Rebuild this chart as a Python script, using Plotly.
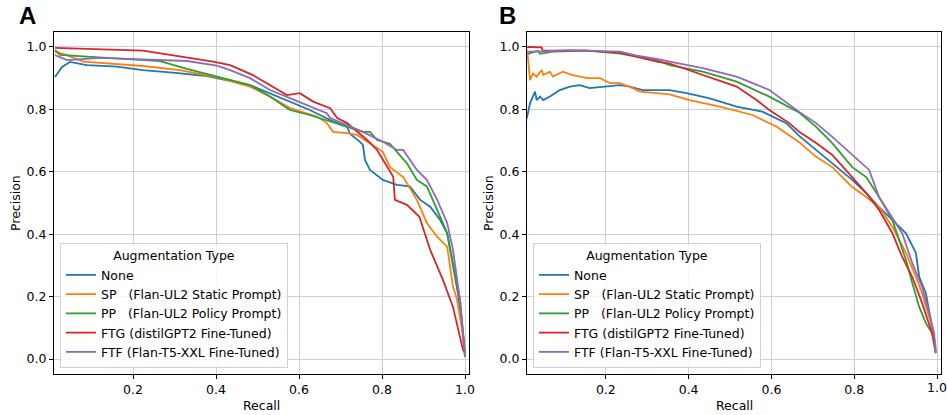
import plotly.graph_objects as go

W, H = 947, 415

series_names = [
    "None",
    "SP\u00a0\u00a0\u00a0(Flan-UL2 Static Prompt)",
    "PP\u00a0\u00a0\u00a0(Flan-UL2 Policy Prompt)",
    "FTG (distilGPT2 Fine-Tuned)",
    "FTF (Flan-T5-XXL Fine-Tuned)",
]
colors = ["#1f77b4", "#ff7f0e", "#2ca02c", "#d62728", "#9467bd"]

x_ticks = [0.2, 0.4, 0.6, 0.8, 1.0]
x_tick_labels = ["0.2", "0.4", "0.6", "0.8", "1.0"]
y_ticks = [0.0, 0.2, 0.4, 0.6, 0.8, 1.0]
y_tick_labels = ["0.0", "0.2", "0.4", "0.6", "0.8", "1.0"]

# ---------------- Panel A ----------------
a_none_r = [0.012, 0.029, 0.048, 0.089, 0.161, 0.224, 0.296, 0.378, 0.482, 0.53, 0.578, 0.626, 0.675, 0.716, 0.719, 0.723, 0.747, 0.754, 0.759, 0.771, 0.802, 0.836, 0.867, 0.892, 0.916, 0.94, 0.957, 0.971, 0.983, 0.995, 1.0]
a_none_p = [0.904, 0.936, 0.952, 0.942, 0.937, 0.926, 0.918, 0.907, 0.878, 0.852, 0.825, 0.798, 0.766, 0.744, 0.734, 0.721, 0.696, 0.686, 0.638, 0.606, 0.574, 0.558, 0.553, 0.51, 0.488, 0.446, 0.403, 0.296, 0.21, 0.083, 0.01]

a_sp_r = [0.012, 0.041, 0.08, 0.145, 0.224, 0.313, 0.402, 0.45, 0.482, 0.53, 0.578, 0.643, 0.667, 0.682, 0.716, 0.74, 0.771, 0.802, 0.819, 0.851, 0.884, 0.908, 0.933, 0.957, 0.971, 0.981, 0.993, 1.0]
a_sp_p = [0.985, 0.974, 0.953, 0.947, 0.939, 0.926, 0.903, 0.885, 0.873, 0.841, 0.804, 0.777, 0.756, 0.728, 0.724, 0.718, 0.692, 0.664, 0.615, 0.583, 0.51, 0.436, 0.391, 0.36, 0.232, 0.189, 0.093, 0.006]

a_pp_r = [0.012, 0.024, 0.08, 0.145, 0.224, 0.265, 0.33, 0.402, 0.434, 0.482, 0.53, 0.578, 0.626, 0.675, 0.723, 0.754, 0.771, 0.788, 0.819, 0.86, 0.884, 0.908, 0.933, 0.957, 0.971, 0.988, 1.0]
a_pp_p = [0.99, 0.975, 0.97, 0.965, 0.96, 0.955, 0.93, 0.905, 0.894, 0.878, 0.841, 0.798, 0.782, 0.761, 0.74, 0.728, 0.728, 0.702, 0.69, 0.627, 0.574, 0.553, 0.478, 0.403, 0.307, 0.189, 0.02]

a_ftg_r = [0.012, 0.065, 0.224, 0.393, 0.434, 0.489, 0.537, 0.571, 0.602, 0.634, 0.675, 0.692, 0.716, 0.74, 0.764, 0.788, 0.802, 0.827, 0.831, 0.86, 0.89, 0.916, 0.947, 0.971, 0.995, 1.0]
a_ftg_p = [0.997, 0.995, 0.988, 0.953, 0.942, 0.91, 0.873, 0.846, 0.852, 0.825, 0.804, 0.772, 0.756, 0.728, 0.702, 0.67, 0.638, 0.584, 0.51, 0.494, 0.456, 0.35, 0.253, 0.167, 0.029, 0.02]

a_ftf_r = [0.012, 0.041, 0.12, 0.224, 0.33, 0.402, 0.434, 0.482, 0.53, 0.578, 0.626, 0.667, 0.675, 0.716, 0.754, 0.802, 0.836, 0.851, 0.884, 0.908, 0.933, 0.957, 0.971, 0.988, 1.0]
a_ftf_p = [0.974, 0.958, 0.965, 0.96, 0.955, 0.94, 0.926, 0.9, 0.862, 0.836, 0.809, 0.788, 0.772, 0.75, 0.728, 0.696, 0.67, 0.67, 0.606, 0.574, 0.51, 0.436, 0.35, 0.189, 0.006]

# ---------------- Panel B ----------------
b_none_r = [0.009, 0.017, 0.029, 0.033, 0.041, 0.049, 0.065, 0.089, 0.113, 0.137, 0.161, 0.193, 0.234, 0.258, 0.289, 0.354, 0.395, 0.451, 0.516, 0.578, 0.636, 0.667, 0.708, 0.747, 0.795, 0.829, 0.86, 0.892, 0.925, 0.949, 0.957, 0.973, 0.988, 0.997]
b_none_p = [0.771, 0.82, 0.857, 0.83, 0.841, 0.83, 0.841, 0.862, 0.873, 0.878, 0.868, 0.873, 0.878, 0.873, 0.862, 0.862, 0.852, 0.835, 0.809, 0.793, 0.756, 0.715, 0.67, 0.628, 0.574, 0.532, 0.487, 0.446, 0.403, 0.34, 0.263, 0.211, 0.103, 0.019]

b_sp_r = [0.01, 0.017, 0.024, 0.033, 0.045, 0.049, 0.065, 0.072, 0.096, 0.12, 0.154, 0.186, 0.21, 0.234, 0.265, 0.282, 0.323, 0.354, 0.402, 0.475, 0.554, 0.612, 0.667, 0.708, 0.747, 0.795, 0.829, 0.86, 0.892, 0.925, 0.949, 0.964, 0.988, 0.997]
b_sp_p = [0.99, 0.894, 0.915, 0.905, 0.926, 0.91, 0.921, 0.905, 0.921, 0.91, 0.9, 0.9, 0.884, 0.884, 0.868, 0.857, 0.852, 0.848, 0.83, 0.809, 0.782, 0.745, 0.695, 0.648, 0.615, 0.551, 0.519, 0.487, 0.424, 0.34, 0.263, 0.211, 0.103, 0.038]

b_pp_r = [0.012, 0.024, 0.036, 0.041, 0.072, 0.154, 0.234, 0.275, 0.323, 0.354, 0.434, 0.516, 0.595, 0.667, 0.708, 0.747, 0.795, 0.829, 0.86, 0.892, 0.925, 0.94, 0.957, 0.973, 0.988, 0.997]
b_pp_p = [0.978, 0.982, 0.988, 0.978, 0.985, 0.988, 0.979, 0.969, 0.958, 0.942, 0.921, 0.889, 0.841, 0.79, 0.744, 0.692, 0.615, 0.583, 0.519, 0.446, 0.317, 0.244, 0.167, 0.115, 0.083, 0.019]

b_ftg_r = [0.01, 0.045, 0.047, 0.072, 0.154, 0.234, 0.275, 0.323, 0.354, 0.434, 0.516, 0.564, 0.595, 0.643, 0.667, 0.708, 0.747, 0.795, 0.829, 0.86, 0.892, 0.916, 0.94, 0.964, 0.988, 0.997]
b_ftg_p = [1.0, 0.999, 0.988, 0.988, 0.988, 0.982, 0.969, 0.953, 0.947, 0.91, 0.873, 0.83, 0.798, 0.756, 0.728, 0.692, 0.654, 0.583, 0.532, 0.478, 0.403, 0.327, 0.263, 0.179, 0.083, 0.029]

b_ftf_r = [0.012, 0.04, 0.113, 0.193, 0.234, 0.275, 0.323, 0.354, 0.434, 0.516, 0.595, 0.667, 0.708, 0.747, 0.795, 0.836, 0.86, 0.884, 0.916, 0.94, 0.964, 0.981, 0.993, 0.997]
b_ftf_p = [0.985, 0.985, 0.99, 0.988, 0.985, 0.972, 0.962, 0.953, 0.932, 0.905, 0.862, 0.792, 0.756, 0.712, 0.654, 0.606, 0.519, 0.468, 0.403, 0.308, 0.231, 0.147, 0.083, 0.019]

panel_a = [(a_none_r, a_none_p), (a_sp_r, a_sp_p), (a_pp_r, a_pp_p), (a_ftg_r, a_ftg_p), (a_ftf_r, a_ftf_p)]
panel_b = [(b_none_r, b_none_p), (b_sp_r, b_sp_p), (b_pp_r, b_pp_p), (b_ftg_r, b_ftg_p), (b_ftf_r, b_ftf_p)]

FONT = "DejaVu Sans"
FS = 12.5

fig = go.Figure()
for i, (r, p) in enumerate(panel_a):
    fig.add_trace(go.Scatter(x=r, y=p, mode="lines", name=series_names[i],
                             line=dict(color=colors[i], width=1.8),
                             xaxis="x", yaxis="y", legend="legend"))
for i, (r, p) in enumerate(panel_b):
    fig.add_trace(go.Scatter(x=r, y=p, mode="lines", name=series_names[i],
                             line=dict(color=colors[i], width=1.8),
                             xaxis="x2", yaxis="y2", legend="legend2"))

def px_x(v):
    return v / W

def px_y(v):
    return 1 - v / H

axis_common = dict(
    showline=True, linecolor="black", linewidth=1, mirror=True,
    ticks="outside", ticklen=4, tickcolor="black", tickwidth=1,
    showgrid=True, gridcolor="#cfcfcf", gridwidth=1, zeroline=False,
    tickfont=dict(family=FONT, size=FS, color="black"),
    automargin=False, ticklabeloverflow="allow",
)

ydom = [px_y(374), px_y(32)]
xr = [0.0096, 1.0096]
yr = [-0.048, 1.048]

legend_common = dict(
    bgcolor="rgba(255,255,255,0.85)", bordercolor="#d0d0d0", borderwidth=1,
    font=dict(family=FONT, size=FS, color="black"),
    title=dict(text="Augmentation Type", side="top center",
               font=dict(family=FONT, size=FS, color="black")),
    xanchor="left", yanchor="bottom", tracegroupgap=0, itemwidth=30,
)

def label(text, x, y, angle=0, size=FS, family=FONT):
    return dict(text=text, x=px_x(x), y=px_y(y), xref="paper", yref="paper",
                xanchor="center", yanchor="middle", showarrow=False, textangle=angle,
                font=dict(family=family, size=size, color="black"))

# the last x tick label of panel B sits on the page edge; plotly would drop it,
# so it is drawn as an annotation at its data position instead
b_x_tick_labels = x_tick_labels[:-1] + [""]

fig.update_layout(
    width=W, height=H,
    margin=dict(l=0, r=0, t=0, b=0),
    paper_bgcolor="white", plot_bgcolor="white",
    font=dict(family=FONT, size=FS, color="black"),
    xaxis=dict(domain=[px_x(54), px_x(469)], range=xr, tickvals=x_ticks, ticktext=x_tick_labels,
               anchor="y", **axis_common),
    yaxis=dict(domain=ydom, range=yr, tickvals=y_ticks, ticktext=y_tick_labels,
               anchor="x", **axis_common),
    xaxis2=dict(domain=[px_x(527), px_x(941)], range=xr, tickvals=x_ticks, ticktext=b_x_tick_labels,
                anchor="y2", **axis_common),
    yaxis2=dict(domain=ydom, range=yr, tickvals=y_ticks, ticktext=y_tick_labels,
                anchor="x2", **axis_common),
    legend=dict(x=px_x(60), y=px_y(368), **legend_common),
    legend2=dict(x=px_x(533), y=px_y(368), **legend_common),
    annotations=[
        label("<b>A</b>", 27, 16, size=24, family="Liberation Sans"),
        label("<b>B</b>", 507, 16, size=24, family="Liberation Sans"),
        label("Recall", 261, 405),
        label("Recall", 734, 405),
        label("Precision", 15, 203, angle=-90),
        label("Precision", 488, 203, angle=-90),
        dict(text=x_tick_labels[-1], x=x_ticks[-1], xref="x2", y=px_y(387), yref="paper",
             xanchor="center", yanchor="middle", showarrow=False,
             font=dict(family=FONT, size=FS, color="black")),
    ],
)

fig.write_html("out.html", config={"displayModeBar": False},
               post_script="document.body.style.margin='0';document.body.style.overflow='hidden';")
